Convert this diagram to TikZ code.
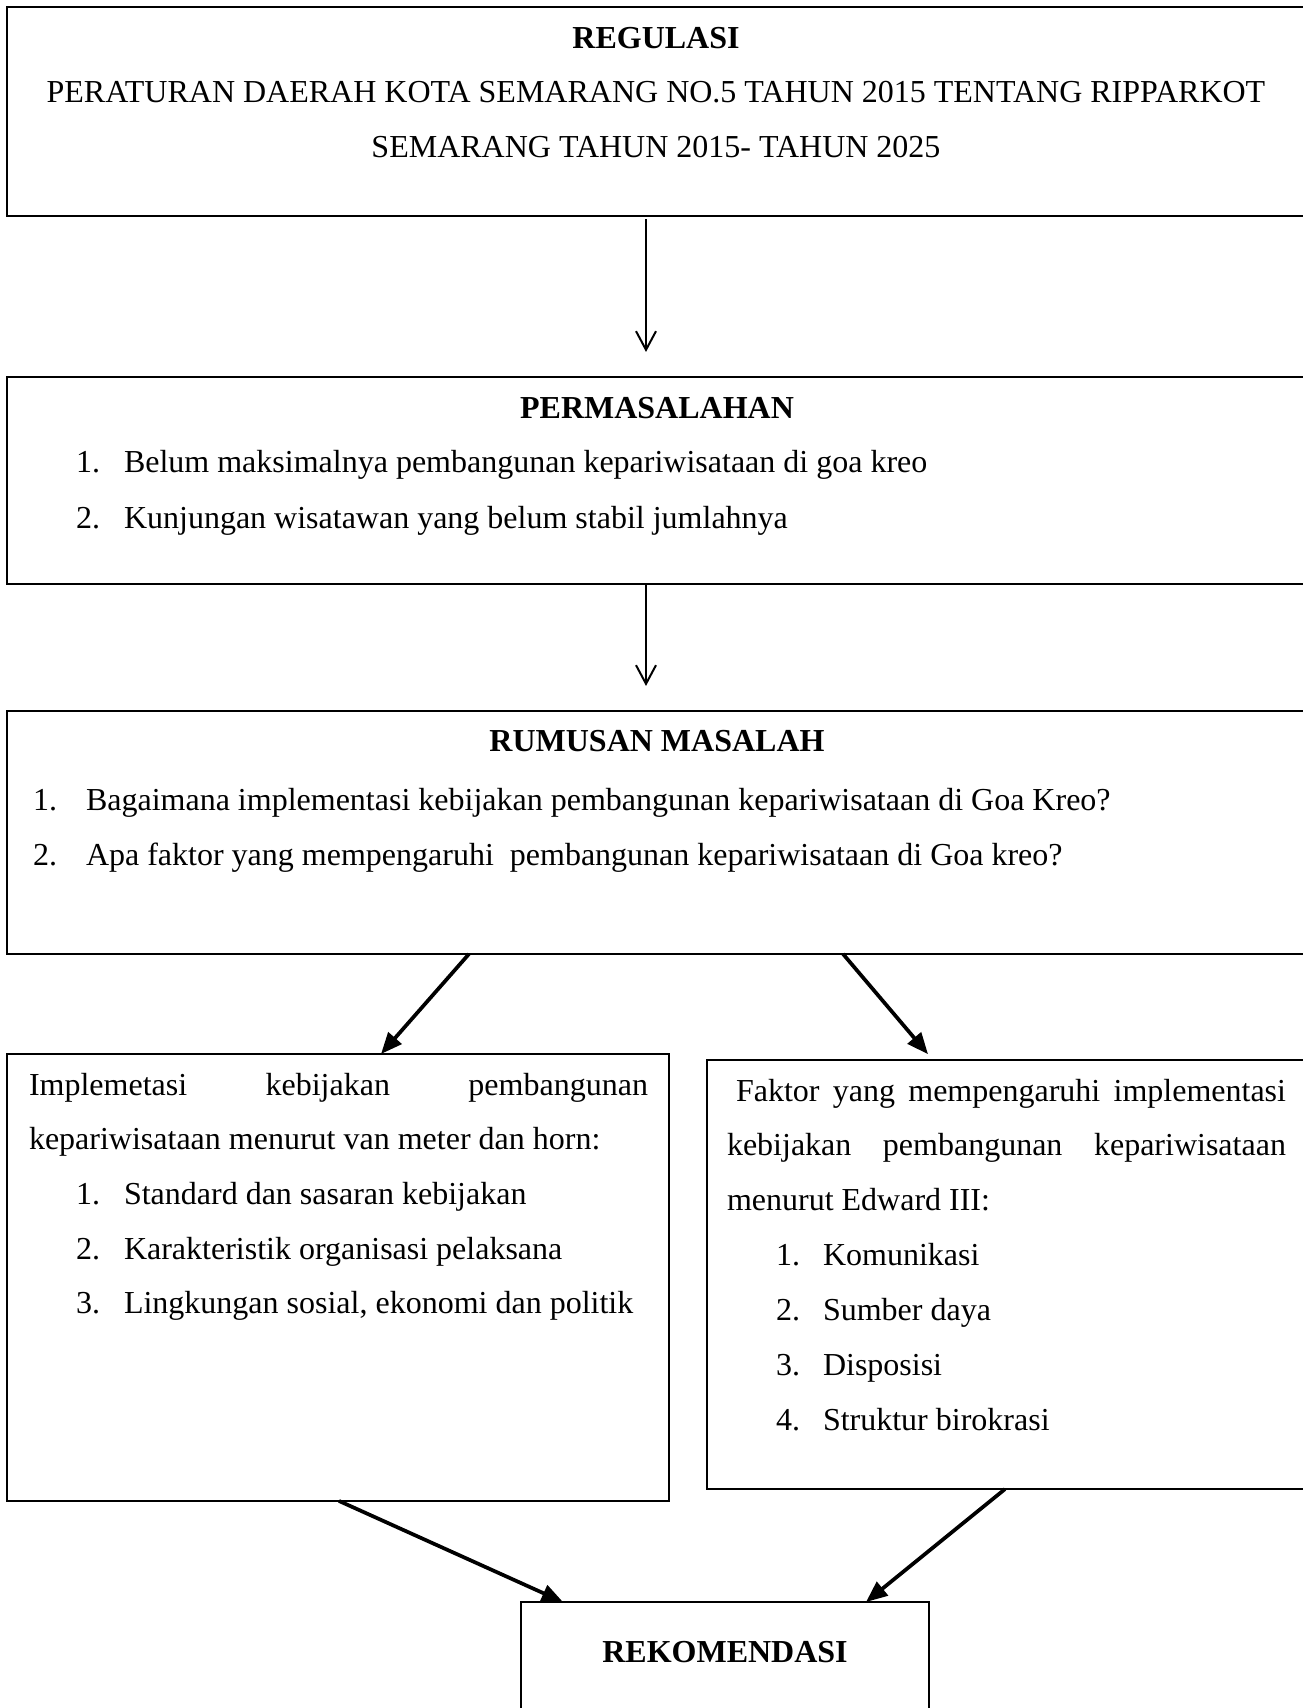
\documentclass[tikz,border=0pt]{standalone}
\usepackage{fontspec}
\setmainfont{Liberation Serif}
\usetikzlibrary{arrows.meta,calc}
\begin{document}
\begin{tikzpicture}[x=0.375pt,y=-0.375pt,
  every node/.style={inner sep=0pt,outer sep=0pt,font=\fontsize{12pt}{14pt}\selectfont},
  boxnode/.style={draw=black,line width=0.6pt,rectangle,anchor=north west},
  txt/.style={anchor=base west},
  ctxt/.style={anchor=base},
  head/.style={anchor=base,font=\fontsize{12pt}{14pt}\selectfont\bfseries},
  thinarrow/.style={line width=0.75pt,-{Straight Barb[length=7pt,width=7.5pt]}},
  thickarrow/.style={line width=1.4pt,-{Triangle[length=8pt,width=6.5pt]}}
]
\clip (0,0) rectangle (1303,1708);
\fill[white] (0,0) rectangle (1303,1708);

% boxes
\node[boxnode,minimum width=487.1pt,minimum height=78.4pt] (b1) at (7,7) {};
\node[boxnode,minimum width=487.1pt,minimum height=77.6pt] (b2) at (7,377) {};
\node[boxnode,minimum width=487.1pt,minimum height=91.1pt] (b3) at (7,711) {};
\node[boxnode,minimum width=248.25pt,minimum height=167.6pt] (b4) at (7,1054) {};
\node[boxnode,minimum width=224.6pt,minimum height=160.9pt] (b5) at (707,1060) {};
\node[boxnode,minimum width=153pt,minimum height=41.5pt] (b6) at (521,1602) {};

% box 1 text
\node[head] (t1a) at (656,48) {REGULASI};
\node[ctxt] (t1b) at (656,102) {PERATURAN DAERAH KOTA SEMARANG NO.5 TAHUN 2015 TENTANG RIPPARKOT};
\node[ctxt] (t1c) at (656,157) {SEMARANG TAHUN 2015- TAHUN 2025};

% box 2 text
\node[head] (t2a) at (657,418) {PERMASALAHAN};
\node[txt] (t2n1) at (76,472) {1.};
\node[txt] (t2i1) at (124,472) {Belum maksimalnya pembangunan kepariwisataan di goa kreo};
\node[txt] (t2n2) at (76,528) {2.};
\node[txt] (t2i2) at (124,528) {Kunjungan wisatawan yang belum stabil jumlahnya};

% box 3 text
\node[head] (t3a) at (657,751) {RUMUSAN MASALAH};
\node[txt] (t3n1) at (33,810) {1.};
\node[txt] (t3i1) at (86,810) {Bagaimana implementasi kebijakan pembangunan kepariwisataan di Goa Kreo?};
\node[txt] (t3n2) at (33,865) {2.};
\node[txt] (t3i2) at (86,865) {Apa faktor yang mempengaruhi\ \ pembangunan kepariwisataan di Goa kreo?};

% box 4 text
\node[txt] (t4a) at (29,1095) {\makebox[232.1pt][s]{Implemetasi kebijakan pembangunan}};
\node[txt] (t4b) at (29,1149) {kepariwisataan menurut van meter dan horn:};
\node[txt] (t4n1) at (76,1204) {1.};
\node[txt] (t4i1) at (124,1204) {Standard dan sasaran kebijakan};
\node[txt] (t4n2) at (76,1259) {2.};
\node[txt] (t4i2) at (124,1259) {Karakteristik organisasi pelaksana};
\node[txt] (t4n3) at (76,1313) {3.};
\node[txt] (t4i3) at (124,1313) {Lingkungan sosial, ekonomi dan politik};

% box 5 text
\node[txt] (t5a) at (736,1101) {\makebox[206.25pt][s]{Faktor yang mempengaruhi implementasi}};
\node[txt] (t5b) at (727,1155) {\makebox[209.6pt][s]{kebijakan pembangunan kepariwisataan}};
\node[txt] (t5c) at (727,1210) {menurut Edward III:};
\node[txt] (t5n1) at (776,1265) {1.};
\node[txt] (t5i1) at (823,1265) {Komunikasi};
\node[txt] (t5n2) at (776,1320) {2.};
\node[txt] (t5i2) at (823,1320) {Sumber daya};
\node[txt] (t5n3) at (776,1375) {3.};
\node[txt] (t5i3) at (823,1375) {Disposisi};
\node[txt] (t5n4) at (776,1430) {4.};
\node[txt] (t5i4) at (823,1430) {Struktur birokrasi};

% box 6 text
\node[head] (t6a) at (725,1662) {REKOMENDASI};

% connectors
\draw[thinarrow] ([yshift=-1.1pt]b1.south -| 646,0) -- ([yshift=9.4pt]b2.north -| 646,0);
\draw[thinarrow] (b2.south -| 646,0) -- ([yshift=9.4pt]b3.north -| 646,0);
\draw[thickarrow] (b3.south -| 469,0) -- (b4.north -| 381,0);
\draw[thickarrow] (b3.south -| 843,0) -- ([yshift=2.2pt]b5.north -| 928,0);
\draw[thickarrow] (b4.south -| 339,0) -- (b6.north -| 563,0);
\draw[thickarrow] (b5.south -| 1005,0) -- (b6.north -| 866,0);
\end{tikzpicture}
\end{document}
